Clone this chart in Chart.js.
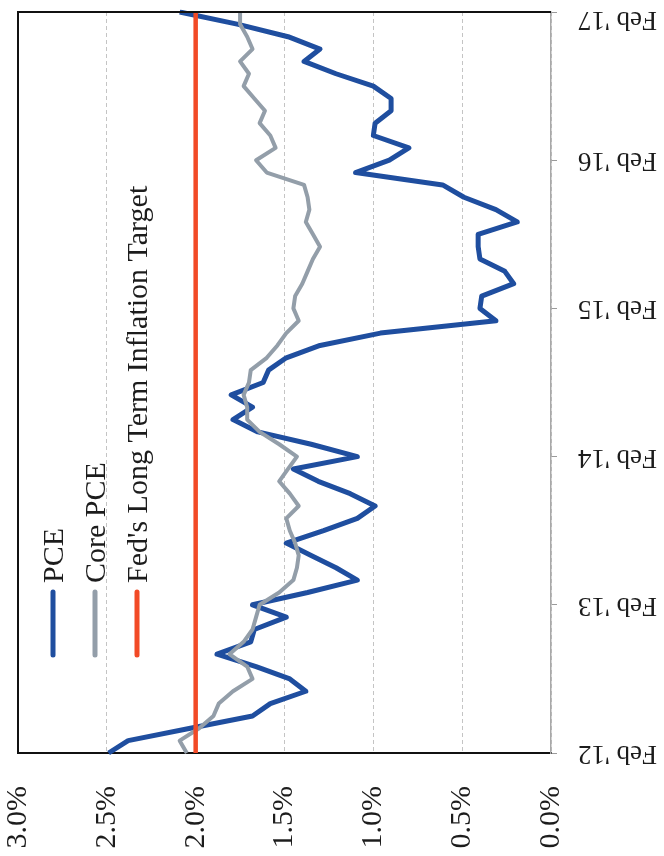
<!DOCTYPE html>
<html>
<head>
<meta charset="utf-8">
<script src="https://cdn.jsdelivr.net/npm/chart.js@4.4.1/dist/chart.umd.min.js"></script>
<style>
  html, body { margin: 0; padding: 0; background: #ffffff; }
  #wrap { width: 664px; height: 856px; }
</style>
</head>
<body>
<div id="wrap"><canvas id="chart" width="664" height="856"></canvas></div>
<script>
// Monthly observations, Feb 2012 through Feb 2017
const months = [
  "Feb '12", "Mar '12", "Apr '12", "May '12", "Jun '12", "Jul '12", "Aug '12", "Sep '12", "Oct '12", "Nov '12", "Dec '12", "Jan '13",
  "Feb '13", "Mar '13", "Apr '13", "May '13", "Jun '13", "Jul '13", "Aug '13", "Sep '13", "Oct '13", "Nov '13", "Dec '13", "Jan '14",
  "Feb '14", "Mar '14", "Apr '14", "May '14", "Jun '14", "Jul '14", "Aug '14", "Sep '14", "Oct '14", "Nov '14", "Dec '14", "Jan '15",
  "Feb '15", "Mar '15", "Apr '15", "May '15", "Jun '15", "Jul '15", "Aug '15", "Sep '15", "Oct '15", "Nov '15", "Dec '15", "Jan '16",
  "Feb '16", "Mar '16", "Apr '16", "May '16", "Jun '16", "Jul '16", "Aug '16", "Sep '16", "Oct '16", "Nov '16", "Dec '16", "Jan '17",
  "Feb '17"
];

// Labelled ticks on the date axis
const yearTicks = ["Feb '12", "Feb '13", "Feb '14", "Feb '15", "Feb '16", "Feb '17"];

// Year-over-year PCE inflation, %
const pce = [
  2.49, 2.38, 2.03, 1.68, 1.58, 1.38, 1.47, 1.66, 1.88, 1.69, 1.67, 1.49,
  1.68, 1.37, 1.09, 1.21, 1.35, 1.49, 1.28, 1.09, 0.99, 1.13, 1.31, 1.45,
  1.09, 1.35, 1.65, 1.79, 1.68, 1.80, 1.62, 1.59, 1.49, 1.30, 0.96, 0.31,
  0.40, 0.39, 0.21, 0.26, 0.40, 0.41, 0.41, 0.19, 0.31, 0.49, 0.61, 1.10,
  0.91, 0.80, 1.00, 0.99, 0.90, 0.90, 1.00, 1.21, 1.39, 1.30, 1.48, 1.76,
  2.09
];

// Year-over-year core PCE inflation, %
const corePce = [
  2.05, 2.09, 1.98, 1.90, 1.87, 1.79, 1.68, 1.71, 1.81, 1.73, 1.68, 1.66,
  1.64, 1.53, 1.45, 1.43, 1.42, 1.44, 1.47, 1.49, 1.42, 1.47, 1.53, 1.48,
  1.43, 1.53, 1.64, 1.71, 1.71, 1.73, 1.70, 1.69, 1.60, 1.54, 1.49, 1.42,
  1.45, 1.44, 1.40, 1.37, 1.34, 1.30, 1.34, 1.38, 1.36, 1.37, 1.39, 1.60,
  1.66, 1.55, 1.58, 1.64, 1.61, 1.67, 1.73, 1.70, 1.75, 1.68, 1.71, 1.75,
  1.75
];

// Fed's long-run inflation objective, %
const fedTarget = 2.0;

const seriesNames = ["PCE", "Core PCE", "Fed's Long Term Inflation Target"];

const FONT = '"Liberation Serif", "Times New Roman", serif';
const TEXT_COLOR = '#1c1c1c';

// Frame, rotated date labels and the vertical legend
const decorations = {
  id: 'decorations',
  afterDraw(chart) {
    const { ctx, chartArea: a, scales: { y } } = chart;
    ctx.save();

    // top and left edges of the plot frame
    ctx.strokeStyle = '#111111';
    ctx.lineWidth = 2;
    ctx.beginPath();
    ctx.moveTo(a.left, a.bottom);
    ctx.lineTo(a.left, a.top);
    ctx.lineTo(a.right, a.top);
    ctx.stroke();

    // date labels, turned upside down
    ctx.font = '27px ' + FONT;
    ctx.fillStyle = TEXT_COLOR;
    ctx.textAlign = 'left';
    ctx.textBaseline = 'middle';
    yearTicks.forEach(lbl => {
      const py = Math.max(y.getPixelForValue(months.indexOf(lbl)), 19);
      ctx.save();
      ctx.translate(657, py);
      ctx.rotate(Math.PI);
      ctx.fillText(lbl, 0, 0);
      ctx.restore();
    });

    // legend: short vertical swatches with text running upward
    const legendX = [53, 95, 137];
    chart.data.datasets.forEach((ds, i) => {
      const lx = legendX[i];
      ctx.strokeStyle = ds.borderColor;
      ctx.lineWidth = 5;
      ctx.lineCap = 'round';
      ctx.beginPath();
      ctx.moveTo(lx, 655);
      ctx.lineTo(lx, 592);
      ctx.stroke();

      ctx.save();
      ctx.translate(lx, 583);
      ctx.rotate(-Math.PI / 2);
      ctx.font = '30px ' + FONT;
      ctx.fillStyle = TEXT_COLOR;
      ctx.textAlign = 'left';
      ctx.textBaseline = 'alphabetic';
      ctx.fillText(ds.label, 0, 10);
      ctx.restore();
    });

    ctx.restore();
  }
};

new Chart(document.getElementById('chart'), {
  type: 'line',
  data: {
    labels: months,
    datasets: [
      {
        label: seriesNames[0],
        data: pce,
        borderColor: '#1f4e9f',
        borderWidth: 5,
        order: 2
      },
      {
        label: seriesNames[1],
        data: corePce,
        borderColor: '#939ea9',
        borderWidth: 4,
        order: 1
      },
      {
        label: seriesNames[2],
        data: [
          { x: fedTarget, y: months[0] },
          { x: fedTarget, y: months[months.length - 1] }
        ],
        borderColor: '#f24a26',
        borderWidth: 4.5,
        order: 0
      }
    ]
  },
  options: {
    indexAxis: 'y',
    responsive: false,
    animation: false,
    devicePixelRatio: 1,
    elements: {
      point: { radius: 0, hoverRadius: 0 },
      line: { tension: 0, borderJoinStyle: 'round', borderCapStyle: 'butt', fill: false }
    },
    layout: { padding: { left: 18, top: 12, right: 0, bottom: 0 } },
    plugins: {
      legend: { display: false },
      tooltip: { enabled: false }
    },
    scales: {
      x: {
        type: 'linear',
        position: 'bottom',
        reverse: true,
        min: 0,
        max: 3,
        ticks: {
          stepSize: 0.5,
          minRotation: 90,
          maxRotation: 90,
          padding: 33,
          color: TEXT_COLOR,
          font: { family: FONT, size: 30 },
          callback: v => v.toFixed(1) + '%'
        },
        grid: { color: '#c4c4c4', lineWidth: 1, drawTicks: false },
        border: { color: '#111111', width: 2, dash: [4, 3] },
        afterFit: s => {
          s.height = 103;
          s.paddingLeft = 0;
          s.paddingRight = 0;
        }
      },
      y: {
        type: 'category',
        position: 'right',
        reverse: true,
        ticks: { display: false, autoSkip: false },
        grid: {
          drawOnChartArea: false,
          drawTicks: true,
          tickLength: 6,
          tickWidth: 1,
          tickColor: c => yearTicks.includes(months[c.index]) ? '#9a9a9a' : 'rgba(0,0,0,0)'
        },
        border: { color: '#a8a8a8', width: 1.5 },
        afterFit: s => { s.width = 113; }
      }
    }
  },
  plugins: [decorations]
});
</script>
</body>
</html>
